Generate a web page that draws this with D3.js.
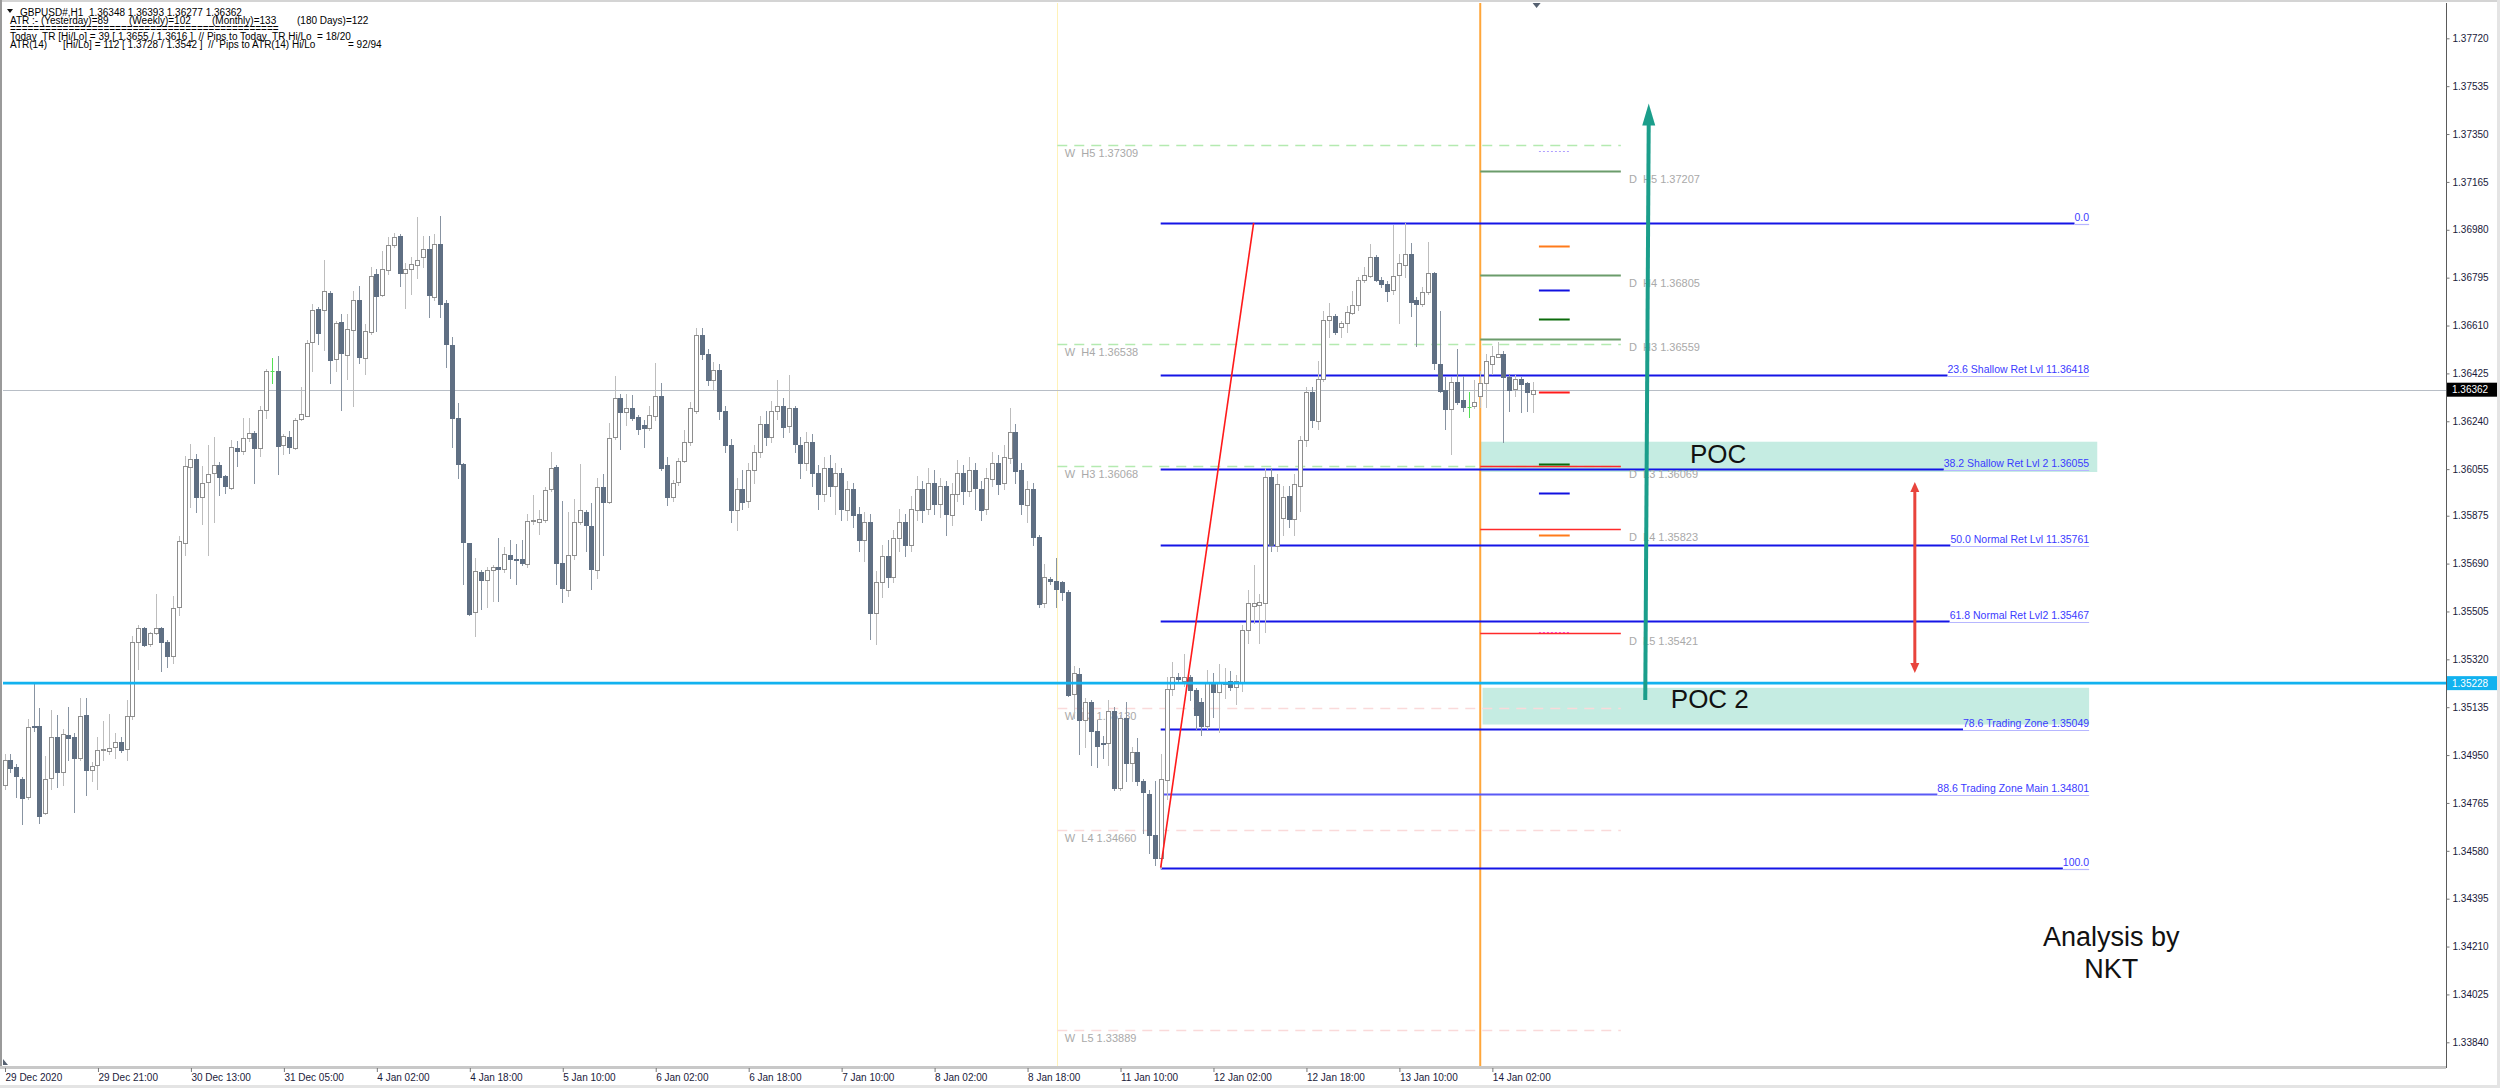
<!DOCTYPE html>
<html><head><meta charset="utf-8">
<script src="https://cdn.jsdelivr.net/npm/d3@7"></script>
<style>html,body{margin:0;padding:0;background:#fff;} svg{display:block}</style>
</head><body>
<svg id="c" width="2500" height="1088"></svg>
<script>
// ---------------- DATA ----------------
const symbolHeader = "GBPUSD#,H1  1.36348 1.36393 1.36277 1.36362";
const opens = [
1.34835,1.34931,1.34902,1.34859,1.34787,1.35062,1.35062,1.34728,1.34859,1.35019,
1.34883,1.35027,1.35019,1.34939,1.35104,1.34891,1.34912,1.34971,1.34966,1.34982,
1.35000,1.34974,1.35102,1.35390,1.35443,1.35379,1.35422,1.35443,1.35387,1.35331,
1.35523,1.35771,1.36067,1.36094,1.35947,1.36003,1.36040,1.36072,1.36027,1.35982,
1.36136,1.36123,1.36176,1.36195,1.36136,1.36283,1.36435,1.36435,1.36147,1.36179,
1.36139,1.36246,1.36259,1.36547,1.36675,1.36670,1.36736,1.36478,1.36622,1.36499,
1.36590,1.36707,1.36483,1.36587,1.36811,1.36727,1.36822,1.36920,1.36955,1.36811,
1.36827,1.36843,1.36875,1.36904,1.36723,1.36926,1.36696,1.36536,1.36254,1.36075,
1.35768,1.35502,1.35659,1.35630,1.35662,1.35675,1.35667,1.35723,1.35707,1.35707,
1.35691,1.35856,1.35851,1.35859,1.35979,1.36062,1.35691,1.35587,1.35723,1.35851,
1.35891,1.35835,1.35667,1.35987,1.35929,1.36176,1.36328,1.36275,1.36291,1.36256,
1.36227,1.36211,1.36263,1.36339,1.36070,1.35947,1.36003,1.36086,1.36158,1.36280,
1.36574,1.36500,1.36400,1.36440,1.36280,1.36150,1.35900,1.35980,1.35930,1.36050,
1.36120,1.36230,1.36180,1.36280,1.36300,1.36220,1.36290,1.36150,1.36080,1.36160,
1.36040,1.35960,1.36060,1.35990,1.36040,1.35900,1.35980,1.35880,1.35780,1.35850,
1.35500,1.35620,1.35720,1.35640,1.35790,1.35850,1.35760,1.35900,1.35980,1.35900,
1.36000,1.35920,1.35990,1.35880,1.35960,1.36040,1.35970,1.36050,1.35980,1.35900,
1.36020,1.36080,1.36000,1.36100,1.36200,1.36050,1.35920,1.35980,1.35794,1.35537,
1.35631,1.35623,1.35618,1.35581,1.35183,1.35263,1.35085,1.35155,1.35043,1.34995,
1.34995,1.35120,1.34821,1.35092,1.34918,1.34960,1.34849,1.34800,1.34640,1.34550,
1.34856,1.35206,1.35252,1.35238,1.35252,1.35203,1.35155,1.35062,1.35228,1.35192,
1.35224,1.35235,1.35210,1.35231,1.35433,1.35527,1.35530,1.35537,1.36023,1.35759,
1.35864,1.35952,1.35862,1.35993,1.36165,1.36352,1.36242,1.36403,1.36632,1.36646,
1.36605,1.36620,1.36661,1.36690,1.36786,1.36799,1.36874,1.36786,1.36771,1.36745,
1.36806,1.36846,1.36887,1.36710,1.36694,1.36739,1.36812,1.36461,1.36361,1.36287,
1.36390,1.36322,1.36296,1.36296,1.36339,1.36388,1.36464,1.36490,1.36500,1.36410,
1.36365,1.36403,1.36388,1.36348];
const highs = [
1.34955,1.34955,1.34915,1.34867,1.35091,1.35227,1.35131,1.34947,1.35126,1.35104,
1.35051,1.35136,1.35035,1.35171,1.35171,1.34923,1.35019,1.35083,1.35110,1.35035,
1.35019,1.35163,1.35411,1.35451,1.35446,1.35427,1.35571,1.35446,1.35395,1.35563,
1.35795,1.36107,1.36153,1.36115,1.36067,1.36147,1.36179,1.36083,1.36032,1.36166,
1.36163,1.36254,1.36251,1.36203,1.36299,1.36443,1.36483,1.36494,1.36192,1.36203,
1.36251,1.36371,1.36555,1.36694,1.36683,1.36862,1.36742,1.36627,1.36654,1.36654,
1.36742,1.36763,1.36614,1.36835,1.36827,1.36899,1.36952,1.36966,1.36963,1.36851,
1.36875,1.37030,1.36955,1.36955,1.36963,1.37035,1.36707,1.36566,1.36312,1.36080,
1.35771,1.35712,1.35667,1.35675,1.35683,1.35787,1.35755,1.35782,1.35766,1.35782,
1.35883,1.35955,1.35899,1.35987,1.36123,1.36070,1.35931,1.35891,1.35939,1.36075,
1.35899,1.35926,1.36019,1.36038,1.36235,1.36414,1.36344,1.36347,1.36342,1.36263,
1.36243,1.36299,1.36467,1.36387,1.36102,1.36014,1.36099,1.36206,1.36315,1.36600,
1.36600,1.36520,1.36470,1.36460,1.36300,1.36170,1.36020,1.36050,1.36080,1.36150,
1.36260,1.36280,1.36320,1.36400,1.36330,1.36420,1.36300,1.36180,1.36200,1.36190,
1.36070,1.36100,1.36110,1.36080,1.36060,1.36010,1.36000,1.35910,1.35890,1.35880,
1.35660,1.35760,1.35780,1.35820,1.35900,1.35880,1.35950,1.36030,1.36010,1.36060,
1.36050,1.36020,1.36010,1.36000,1.36090,1.36070,1.36100,1.36080,1.36010,1.36060,
1.36120,1.36110,1.36150,1.36290,1.36230,1.36080,1.36010,1.36000,1.35801,1.35690,
1.35640,1.35711,1.35623,1.35586,1.35294,1.35287,1.35169,1.35162,1.35085,1.35022,
1.35162,1.35134,1.35106,1.35155,1.34981,1.35016,1.34856,1.34814,1.34849,1.34953,
1.35252,1.35308,1.35266,1.35342,1.35259,1.35210,1.35169,1.35280,1.35266,1.35303,
1.35287,1.35273,1.35259,1.35454,1.35586,1.35683,1.35572,1.36061,1.36061,1.36036,
1.35990,1.35990,1.36036,1.36184,1.36371,1.36371,1.36474,1.36668,1.36697,1.36655,
1.36629,1.36687,1.36745,1.36797,1.36835,1.36926,1.36881,1.36799,1.36784,1.36997,
1.36887,1.37007,1.36928,1.36722,1.36758,1.36932,1.36816,1.36668,1.36410,1.36410,
1.36519,1.36416,1.36352,1.36399,1.36436,1.36500,1.36532,1.36545,1.36513,1.36423,
1.36420,1.36410,1.36393,1.36393];
const lows = [
1.34819,1.34883,1.34787,1.34683,1.34779,1.35043,1.34688,1.34723,1.34819,1.34827,
1.34835,1.34931,1.34731,1.34931,1.34795,1.34851,1.34819,1.34931,1.34955,1.34939,
1.34963,1.34931,1.35091,1.35283,1.35371,1.35371,1.35419,1.35275,1.35291,1.35307,
1.35491,1.35723,1.35907,1.35891,1.35843,1.35723,1.35851,1.35955,1.35963,1.35979,
1.36067,1.36115,1.36163,1.36003,1.36107,1.36251,1.36387,1.36038,1.36115,1.36118,
1.36134,1.36243,1.36259,1.36435,1.36539,1.36515,1.36387,1.36435,1.36283,1.36403,
1.36299,1.36467,1.36422,1.36579,1.36587,1.36723,1.36811,1.36915,1.36763,1.36678,
1.36731,1.36795,1.36835,1.36643,1.36707,1.36643,1.36451,1.36139,1.36019,1.35611,
1.35491,1.35411,1.35515,1.35523,1.35547,1.35547,1.35659,1.35635,1.35611,1.35683,
1.35675,1.35843,1.35803,1.35851,1.35971,1.35611,1.35542,1.35563,1.35707,1.35843,
1.35739,1.35590,1.35635,1.35723,1.35923,1.36171,1.36134,1.36227,1.36243,1.36192,
1.36142,1.36206,1.36243,1.36051,1.35915,1.35931,1.35995,1.36083,1.36147,1.36271,
1.36480,1.36380,1.36360,1.36250,1.36120,1.35850,1.35820,1.35900,1.35910,1.36000,
1.36100,1.36150,1.36160,1.36250,1.36180,1.36200,1.36120,1.36020,1.36050,1.35990,
1.35900,1.35930,1.35950,1.35880,1.35860,1.35860,1.35830,1.35740,1.35700,1.35400,
1.35380,1.35560,1.35600,1.35620,1.35740,1.35720,1.35740,1.35860,1.35850,1.35880,
1.35880,1.35870,1.35800,1.35840,1.35930,1.35920,1.35950,1.35900,1.35860,1.35880,
1.35990,1.35960,1.35980,1.36080,1.36000,1.35880,1.35850,1.35760,1.35523,1.35523,
1.35610,1.35523,1.35551,1.35178,1.35092,1.34953,1.34981,1.34911,1.34904,1.34940,
1.34911,1.34815,1.34814,1.34849,1.34849,1.34835,1.34647,1.34571,1.34525,1.34515,
1.34779,1.35183,1.35231,1.35217,1.35162,1.35050,1.35029,1.35050,1.35099,1.35039,
1.35169,1.35203,1.35148,1.35196,1.35384,1.35460,1.35384,1.35426,1.35740,1.35740,
1.35801,1.35830,1.35801,1.35894,1.36145,1.36216,1.36210,1.36397,1.36567,1.36577,
1.36565,1.36584,1.36655,1.36670,1.36777,1.36797,1.36784,1.36758,1.36706,1.36732,
1.36618,1.36797,1.36648,1.36532,1.36687,1.36732,1.36442,1.36352,1.36210,1.36113,
1.36306,1.36281,1.36255,1.36291,1.36294,1.36296,1.36423,1.36487,1.36158,1.36281,
1.36339,1.36274,1.36281,1.36277];
const closes = [
1.34931,1.34899,1.34867,1.34787,1.35059,1.35059,1.34715,1.34859,1.35019,1.34883,
1.35030,1.35014,1.34939,1.35102,1.34891,1.34907,1.34971,1.34974,1.34979,1.35000,
1.34971,1.35102,1.35387,1.35443,1.35376,1.35422,1.35443,1.35387,1.35331,1.35518,
1.35779,1.36067,1.36096,1.35947,1.36003,1.36035,1.36072,1.36027,1.35987,1.36139,
1.36123,1.36174,1.36195,1.36136,1.36283,1.36435,1.36435,1.36147,1.36182,1.36139,
1.36246,1.36267,1.36542,1.36670,1.36582,1.36742,1.36478,1.36619,1.36502,1.36598,
1.36707,1.36486,1.36587,1.36803,1.36727,1.36827,1.36920,1.36952,1.36811,1.36827,
1.36846,1.36862,1.36907,1.36727,1.36926,1.36696,1.36536,1.36254,1.36075,1.35774,
1.35495,1.35662,1.35630,1.35667,1.35675,1.35667,1.35726,1.35707,1.35705,1.35691,
1.35856,1.35858,1.35862,1.35974,1.36059,1.35691,1.35595,1.35723,1.35851,1.35896,
1.35840,1.35667,1.35987,1.35929,1.36176,1.36328,1.36275,1.36291,1.36251,1.36211,
1.36214,1.36263,1.36339,1.36062,1.35947,1.36003,1.36086,1.36158,1.36291,1.36574,
1.36500,1.36400,1.36440,1.36280,1.36150,1.35900,1.35980,1.35930,1.36050,1.36120,
1.36230,1.36180,1.36280,1.36300,1.36220,1.36290,1.36150,1.36080,1.36160,1.36040,
1.35960,1.36060,1.35990,1.36040,1.35900,1.35980,1.35880,1.35780,1.35850,1.35500,
1.35620,1.35720,1.35640,1.35790,1.35850,1.35760,1.35900,1.35980,1.35900,1.36000,
1.35920,1.35990,1.35880,1.35960,1.36040,1.35970,1.36050,1.35980,1.35900,1.36020,
1.36080,1.36000,1.36100,1.36200,1.36050,1.35920,1.35980,1.35794,1.35537,1.35637,
1.35623,1.35593,1.35581,1.35183,1.35266,1.35085,1.35155,1.35043,1.34984,1.34993,
1.35120,1.34821,1.35092,1.34918,1.34960,1.34849,1.34807,1.34640,1.34550,1.34856,
1.35206,1.35252,1.35245,1.35252,1.35203,1.35106,1.35062,1.35228,1.35192,1.35228,
1.35231,1.35210,1.35235,1.35433,1.35537,1.35537,1.35541,1.36023,1.35759,1.35997,
1.35946,1.35862,1.35997,1.36169,1.36352,1.36242,1.36403,1.36632,1.36646,1.36584,
1.36620,1.36661,1.36690,1.36786,1.36807,1.36874,1.36786,1.36771,1.36745,1.36801,
1.36852,1.36887,1.36703,1.36694,1.36739,1.36812,1.36464,1.36358,1.36287,1.36390,
1.36313,1.36296,1.36296,1.36313,1.36388,1.36474,1.36494,1.36500,1.36410,1.36358,
1.36403,1.36384,1.36352,1.36362];
const dojiLineBars = [46, 252];

const timeTickBars = [0,16,32,48,64,80,96,112,128,144,160,176,192,208,224,240,256];
const timeTickLabels = ["29 Dec 2020","29 Dec 21:00","30 Dec 13:00","31 Dec 05:00","4 Jan 02:00","4 Jan 18:00",
  "5 Jan 10:00","6 Jan 02:00","6 Jan 18:00","7 Jan 10:00","8 Jan 02:00","8 Jan 18:00","11 Jan 10:00",
  "12 Jan 02:00","12 Jan 18:00","13 Jan 10:00","14 Jan 02:00"];
const priceTicks = [1.37720,1.37535,1.37350,1.37165,1.36980,1.36795,1.36610,1.36425,1.36240,1.36055,1.35875,
  1.35690,1.35505,1.35320,1.35135,1.34950,1.34765,1.34580,1.34395,1.34210,1.34025,1.33840];
const bidPrice = 1.36362;
const poc2Line = 1.35228;

const weekSepBar = 181.2, daySepBar = 254;

const fibLabels = ["0.0","23.6 Shallow Ret Lvl 11.36418","38.2 Shallow Ret Lvl 2 1.36055","50.0 Normal Ret Lvl 11.35761",
  "61.8 Normal Ret Lvl2 1.35467","78.6 Trading Zone 1.35049","88.6 Trading Zone Main 1.34801","100.0"];
const fibPrices = [1.37007,1.36418,1.36055,1.35761,1.35467,1.35049,1.34801,1.34515];
const fibStartBar = 199, fibEndBar = 358.8, fibTrendEndBar = 215;

const weeklyNames = ["W  H5","W  H4","W  H3","W  L3","W  L4","W  L5"];
const weeklyValues = [1.37309,1.36538,1.36068,1.35130,1.34660,1.33889];
const dailyNames = ["D  H5","D  H4","D  H3","D  L3","D  L4","D  L5"];
const dailyValues = [1.37207,1.36805,1.36559,1.36069,1.35823,1.35421];
const markValues = [1.37284,1.36917,1.36749,1.36635,1.36355,1.36074,1.35962,1.35800,1.35426];

const pocZones = [{label:"POC", top:1.36161, bottom:1.36044},{label:"POC 2", top:1.35210, bottom:1.35068}];

const infoLines = [
  ["ATR :- (Yesterday)=89","(Weekly)=102","(Monthly)=133","(180 Days)=122"],
  ["=============================================="],
  ["Today  TR [Hi/Lo] = 39 [ 1.3655 / 1.3616 ]  // Pips to Today  TR Hi/Lo  = 18/20"],
  ["ATR(14)","[Hi/Lo] = 112 [ 1.3728 / 1.3542 ]  //  Pips to ATR(14) Hi/Lo","= 92/94"]
];

// ---------------- LAYOUT / STYLE ----------------
const svg = d3.select("#c");
const PL = 3, PR = 2446, PT = 3, PB = 1067;
const FONT = "'Liberation Sans', Arial, sans-serif";
const x = d3.scaleLinear().domain([0, 263]).range([4.5, 4.5 + 263 * 5.81]);
const y = d3.scaleLinear().domain([1.33840, 1.37720]).range([1042.3, 38.3]);
const px = v => Math.round(x(v)) + 0.5;
const py = v => Math.round(y(v)) + 0.5;

svg.append("rect").attr("width", 2500).attr("height", 1088).attr("fill", "#fff");
const defs = svg.append("defs");
defs.append("clipPath").attr("id", "clip").append("rect")
  .attr("x", PL).attr("y", PT).attr("width", PR - PL).attr("height", PB - PT);

// frame
svg.append("rect").attr("x", 0).attr("y", 0).attr("width", 2500).attr("height", 2).attr("fill", "#d4d4d4");
svg.append("rect").attr("x", 0).attr("y", 0).attr("width", 2).attr("height", 1069).attr("fill", "#9a9a9a");
svg.append("rect").attr("x", 2497).attr("y", 0).attr("width", 3).attr("height", 1088).attr("fill", "#e4e4e4");
svg.append("rect").attr("x", 0).attr("y", 1085).attr("width", 2500).attr("height", 3).attr("fill", "#e4e4e4");

const g = svg.append("g").attr("clip-path", "url(#clip)");

// POC zones (background objects)
const pocColor = "#c5ece2";
const pocX1 = [253.9, 254.4], pocX2 = [360.2, 358.8];
pocZones.forEach((z, k) => {
  g.append("rect").attr("x", x(pocX1[k])).attr("y", y(z.top))
    .attr("width", x(pocX2[k]) - x(pocX1[k])).attr("height", y(z.bottom) - y(z.top))
    .attr("fill", pocColor);
});

// separators
g.append("line").attr("x1", px(weekSepBar)).attr("x2", px(weekSepBar)).attr("y1", PT).attr("y2", PB)
  .attr("stroke", "#fff2b8").attr("stroke-width", 1);
g.append("line").attr("x1", x(daySepBar)).attr("x2", x(daySepBar)).attr("y1", PT).attr("y2", PB)
  .attr("stroke", "#ffa63a").attr("stroke-width", 2);

// weekly pivots (dashed)
const wX1 = weekSepBar, wX2 = 278.2;
weeklyValues.forEach((v, k) => {
  const isH = weeklyNames[k].indexOf("H") >= 0;
  g.append("line").attr("x1", x(wX1)).attr("x2", x(wX2)).attr("y1", py(v)).attr("y2", py(v))
    .attr("stroke", isH ? "#b4eab0" : "#fadada").attr("stroke-width", 1.3).attr("stroke-dasharray", "10,7");
  g.append("text").attr("x", x(182.5)).attr("y", y(v) + 12).attr("font-family", FONT).attr("font-size", 11)
    .attr("fill", "#a9a9a9").attr("xml:space", "preserve").text(weeklyNames[k] + " " + v.toFixed(5));
});

// current bid line
g.append("line").attr("x1", PL).attr("x2", PR).attr("y1", py(bidPrice)).attr("y2", py(bidPrice))
  .attr("stroke", "#b8bec6").attr("stroke-width", 1);

// candles
const bars = d3.range(opens.length).map(i => ({ i, o: opens[i], h: highs[i], l: lows[i], c: closes[i] }));
const cg = g.append("g");
cg.selectAll("line.w").data(bars).join("line").attr("class", "w")
  .attr("x1", d => px(d.i)).attr("x2", d => px(d.i))
  .attr("y1", d => Math.round(y(d.h))).attr("y2", d => Math.round(y(d.l)) + 1)
  .attr("stroke", d => dojiLineBars.includes(d.i) ? "#55e055" : (d.c >= d.o ? "#bdbdbd" : "#8894a2"))
  .attr("stroke-width", 1);
cg.selectAll("rect.b").data(bars.filter(d => !dojiLineBars.includes(d.i))).join("rect").attr("class", "b")
  .attr("x", d => px(d.i) - 2)
  .attr("y", d => Math.round(y(Math.max(d.o, d.c))) + 0.5)
  .attr("width", 4)
  .attr("height", d => Math.max(1, Math.round(Math.abs(y(d.o) - y(d.c)))))
  .attr("fill", d => d.c >= d.o ? "#ffffff" : "#5f6f83")
  .attr("stroke", d => d.c >= d.o ? "#8e8e8e" : "#5f6f83").attr("stroke-width", 1);
cg.selectAll("line.dj").data(bars.filter(d => dojiLineBars.includes(d.i))).join("line").attr("class", "dj")
  .attr("x1", d => px(d.i) - 2).attr("x2", d => px(d.i) + 2)
  .attr("y1", d => py(d.o)).attr("y2", d => py(d.o)).attr("stroke", "#55e055");

// fibonacci levels
fibPrices.forEach((v, k) => {
  const xe = x(fibEndBar);
  const t = g.append("text").attr("x", xe).attr("y", py(v) - 3).attr("text-anchor", "end")
    .attr("font-family", FONT).attr("font-size", 10.5).attr("fill", "#3b3bff").text(fibLabels[k]);
  const tw = t.node().getComputedTextLength();
  g.insert("line", "text").attr("x1", x(fibStartBar)).attr("x2", xe - tw).attr("y1", py(v)).attr("y2", py(v))
    .attr("stroke", k === 6 ? "#5a5af5" : "#1515e6").attr("stroke-width", 2);
  g.append("line").attr("x1", xe - tw).attr("x2", xe).attr("y1", py(v) + 1).attr("y2", py(v) + 1)
    .attr("stroke", "#b6b6ff").attr("stroke-width", 1.2);
});
// fib diagonal
g.append("line").attr("x1", x(fibStartBar)).attr("y1", y(fibPrices[7]))
  .attr("x2", x(fibTrendEndBar)).attr("y2", y(fibPrices[0]))
  .attr("stroke", "#ff1a1a").attr("stroke-width", 1.6);

// POC2 horizontal line
g.append("line").attr("x1", PL).attr("x2", PR).attr("y1", y(poc2Line)).attr("y2", y(poc2Line))
  .attr("stroke", "#12b2ef").attr("stroke-width", 2.6);

// daily pivots
const dX1 = daySepBar, dX2 = 278.2;
dailyValues.forEach((v, k) => {
  const isH = dailyNames[k].indexOf("H") >= 0;
  g.append("line").attr("x1", x(dX1)).attr("x2", x(dX2)).attr("y1", py(v)).attr("y2", py(v))
    .attr("stroke", isH ? "#6b9c6b" : "#ff2a2a").attr("stroke-width", isH ? 2 : 1.6);
  g.append("text").attr("x", x(279.6)).attr("y", y(v) + 12).attr("font-family", FONT).attr("font-size", 11)
    .attr("fill", "#a9a9a9").attr("xml:space", "preserve").text(dailyNames[k] + " " + v.toFixed(5));
});
// short indicator marks
const markColors = ["#b0a0ff","#ff7a1a","#1010e0","#0b6a0b","#ff1a1a","#0b6a0b","#1010e0","#ff7a1a","#ff40c0"];
const markDash = [true,false,false,false,false,false,false,false,true];
markValues.forEach((v, k) => {
  g.append("line").attr("x1", x(264.1)).attr("x2", x(269.4)).attr("y1", py(v)).attr("y2", py(v))
    .attr("stroke", markColors[k]).attr("stroke-width", markDash[k] ? 1.2 : 2)
    .attr("stroke-dasharray", markDash[k] ? "2,2" : null);
});

// annotations
function arrowHead(xt, yt, dir, len, wid, color) {
  g.append("path").attr("d", `M${xt},${yt} L${xt - wid / 2},${yt - dir * len} L${xt + wid / 2},${yt - dir * len} Z`)
    .attr("fill", color);
}
const tealC = "#1b9e8b";
g.append("line").attr("x1", x(282.4)).attr("y1", y(1.35163)).attr("x2", x(283.0)).attr("y2", y(1.37400))
  .attr("stroke", tealC).attr("stroke-width", 4);
arrowHead(x(283.0), y(1.37468), -1, 22, 13, tealC);

const redC = "#e8443c";
g.append("line").attr("x1", x(328.8)).attr("y1", y(1.35985)).attr("x2", x(328.8)).attr("y2", y(1.35290))
  .attr("stroke", redC).attr("stroke-width", 3);
arrowHead(x(328.8), y(1.36005), -1, 10, 9, redC);
arrowHead(x(328.8), y(1.35267), 1, 10, 9, redC);

const pocTextBars = [290.1, 286.8], pocTextPrices = [1.36113, 1.35170];
pocZones.forEach((z, k) => {
  g.append("text").attr("x", x(pocTextBars[k])).attr("y", y(pocTextPrices[k])).attr("dy", "0.36em")
    .attr("font-family", FONT).attr("font-size", 26).attr("fill", "#111").text(z.label);
});
g.append("text").attr("x", x(362.6)).attr("y", y(1.34212)).attr("text-anchor", "middle")
  .attr("font-family", FONT).attr("font-size", 27).attr("fill", "#111").text("Analysis by");
g.append("text").attr("x", x(362.6)).attr("y", y(1.34088)).attr("text-anchor", "middle")
  .attr("font-family", FONT).attr("font-size", 27).attr("fill", "#111").text("NKT");

// header info
svg.append("path").attr("d", "M7,9 L13,9 L10,13 Z").attr("fill", "#111");
svg.append("text").attr("x", 20).attr("y", 15.5).attr("font-family", FONT).attr("font-size", 10)
  .attr("fill", "#000").attr("xml:space", "preserve").text(symbolHeader);
const infoX = [[10, 129, 212, 297], [10], [10], [10, 63, 348]];
const infoY = [24, 31.5, 40, 48];
infoLines.forEach((ln, r) => ln.forEach((s, k) => {
  svg.append("text").attr("x", infoX[r][k]).attr("y", infoY[r]).attr("font-family", FONT).attr("font-size", 10)
    .attr("fill", "#000").attr("xml:space", "preserve").text(s);
}));

// axes
svg.append("rect").attr("x", 0).attr("y", PB - 1).attr("width", PR).attr("height", 3).attr("fill", "#c8c8c8");
const yAxis = d3.axisRight(y).tickValues(priceTicks).tickFormat(d3.format(".5f")).tickSize(3).tickPadding(3);
const ya = svg.append("g").attr("transform", `translate(${PR + 0.5},0)`).call(yAxis);
ya.select(".domain").attr("d", `M0,${PT}V${PB + 1}`).attr("stroke", "#5a5a5a");
ya.selectAll(".tick line").attr("stroke", "#777");
ya.selectAll(".tick text").attr("font-family", FONT).attr("font-size", 10).attr("fill", "#1a1a3a");

function priceBox(v, bg) {
  svg.append("rect").attr("x", PR + 1).attr("y", y(v) - 7).attr("width", 50).attr("height", 14).attr("fill", bg);
  svg.append("text").attr("x", PR + 6).attr("y", y(v)).attr("dy", "0.36em").attr("font-family", FONT)
    .attr("font-size", 10).attr("fill", "#fff").text(v.toFixed(5));
}
priceBox(bidPrice, "#000");
priceBox(poc2Line, "#12b2ef");

const xAxis = d3.axisBottom(x).tickValues(timeTickBars).tickFormat((d, i) => timeTickLabels[i]).tickSize(4).tickPadding(2);
const xa = svg.append("g").attr("transform", `translate(0.5,${PB + 1})`).call(xAxis);
xa.select(".domain").remove();
xa.selectAll(".tick line").attr("stroke", "#777");
xa.selectAll(".tick text").attr("text-anchor", "start").attr("dx", "0").attr("font-family", FONT)
  .attr("font-size", 10).attr("fill", "#1a1a3a");

svg.append("path").attr("d", `M${x(263.7) - 4},3 L${x(263.7) + 4},3 L${x(263.7)},8 Z`).attr("fill", "#556070");
svg.append("path").attr("d", `M3,${PB - 8} L3,${PB - 2} L8,${PB - 2} Z`).attr("fill", "#556070");
</script>
</body></html>
